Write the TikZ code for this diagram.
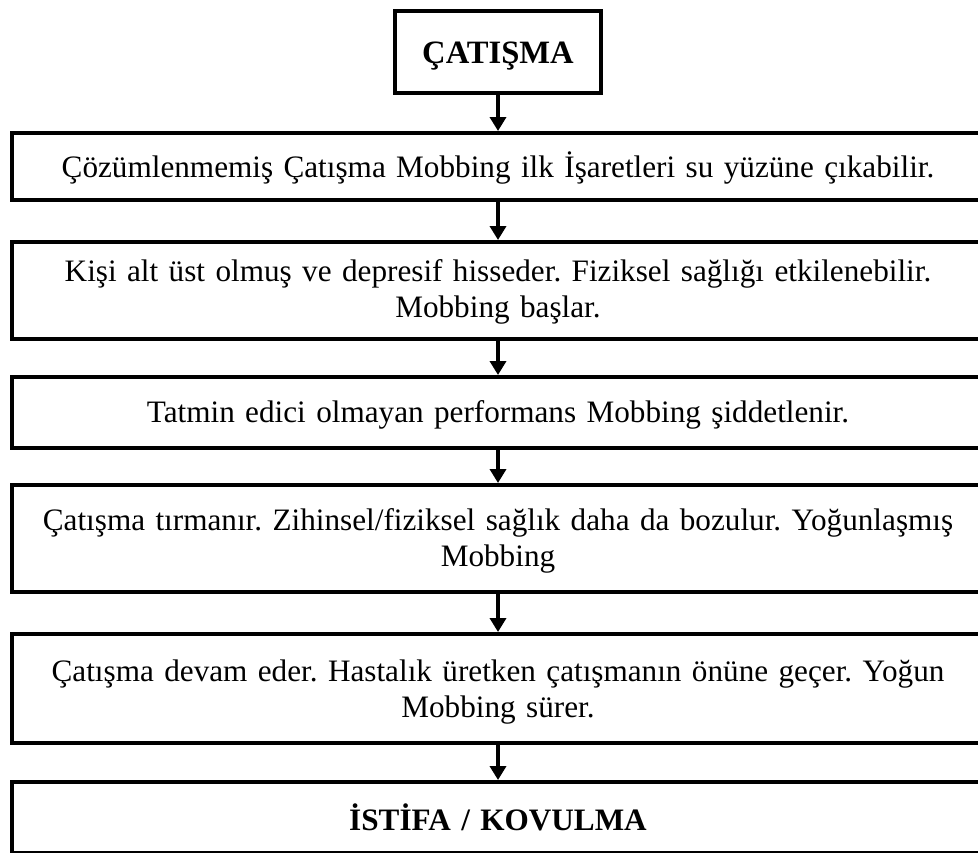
\documentclass[tikz,border=0pt]{standalone}
\usepackage{fontspec}
\setmainfont{Liberation Serif}
\usetikzlibrary{arrows.meta}
\frenchspacing
\begin{document}
\begin{tikzpicture}[x=0.5pt,y=-0.5pt,
		stage/.style={draw,line width=2pt,inner sep=0pt,text width=486pt,align=center,anchor=north,font=\fontsize{15.6}{18}\selectfont},
		flow/.style={line width=2pt,-{Triangle[width=8pt,length=7pt]}}]
		\useasboundingbox (0,0) rectangle (978,852);
		\node[stage,text width=103pt,text height=26.25pt,text depth=15pt,font=\fontsize{16.3}{18}\selectfont\bfseries] (catisma) at (498,8.5) {ÇATIŞMA};
		\node[stage,text height=22pt,text depth=11.5pt] (b1) at (498,131) {Çözümlenmemiş Çatışma Mobbing ilk İşaretleri su yüzüne çıkabilir.};
		\node[stage,text height=19.5pt,text depth=28.75pt] (b2) at (498,240) {Kişi alt üst olmuş ve depresif hisseder. Fiziksel sağlığı etkilenebilir.\\ Mobbing başlar.};
		\node[stage,text height=22.5pt,text depth=13pt] (b3) at (498,375) {Tatmin edici olmayan performans Mobbing şiddetlenir.};
		\node[stage,text height=22.5pt,text depth=31pt] (b4) at (498,483) {Çatışma tırmanır. Zihinsel/fiziksel sağlık daha da bozulur. Yoğunlaşmış\\ Mobbing};
		\node[stage,text height=23.5pt,text depth=31pt] (b5) at (498,632) {Çatışma devam eder. Hastalık üretken çatışmanın önüne geçer. Yoğun\\ Mobbing sürer.};
		\node[stage,text height=24pt,text depth=11.5pt,font=\fontsize{15.6}{18}\selectfont\bfseries] (istifa) at (498,780) {İSTİFA / KOVULMA};
		\draw[flow] (catisma.south) -- (b1.north);
		\draw[flow] (b1.south) -- (b2.north);
		\draw[flow] (b2.south) -- (b3.north);
		\draw[flow] (b3.south) -- (b4.north);
		\draw[flow] (b4.south) -- (b5.north);
		\draw[flow] (b5.south) -- (istifa.north);
	\end{tikzpicture}
\end{document}
